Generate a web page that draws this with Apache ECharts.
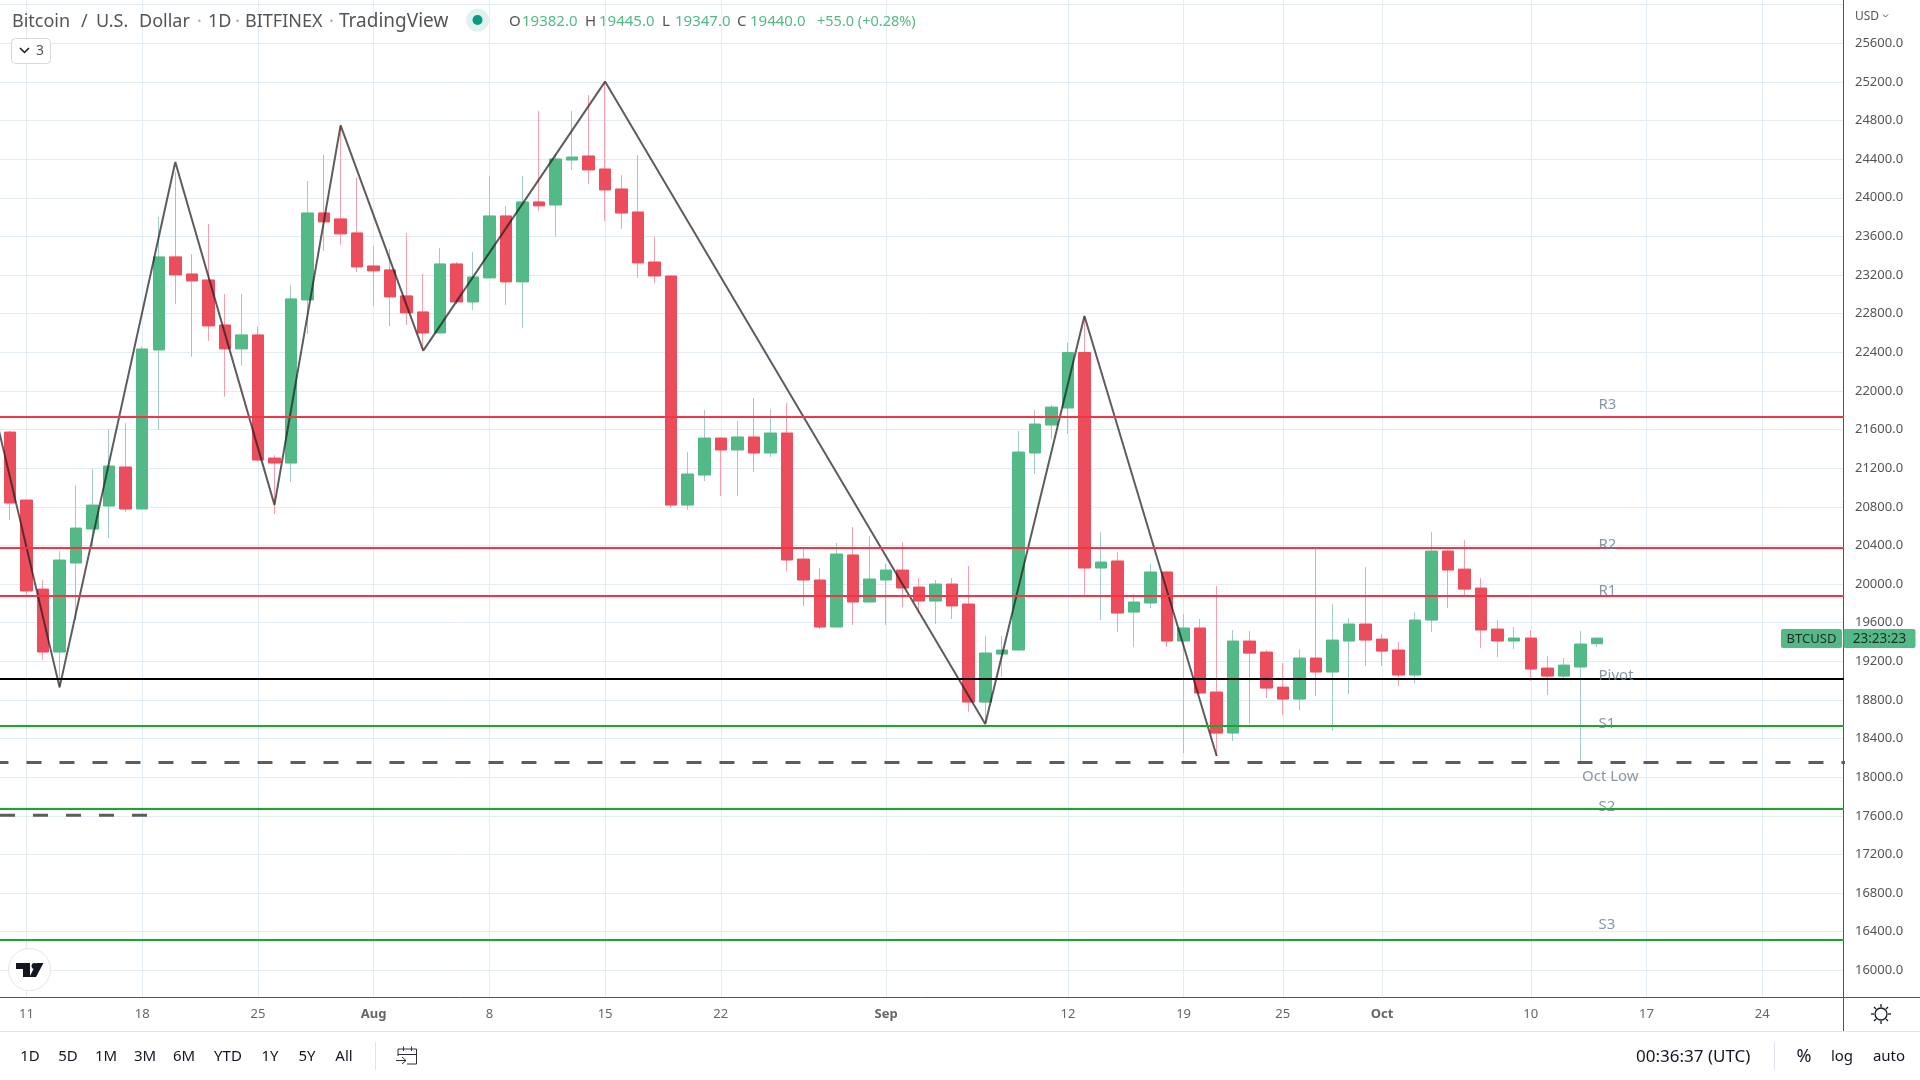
<!DOCTYPE html>
<html>
<head>
<meta charset="utf-8">
<title>Bitcoin / U.S. Dollar</title>
<script src="https://cdn.jsdelivr.net/npm/echarts@6/dist/echarts.min.js"></script>
<style>
  html, body { margin: 0; padding: 0; background: #fff; }
  #chart { width: 1920px; height: 1080px; }
</style>
</head>
<body>
<div id="chart"></div>
<script>
// day 0 is Jul 10, one candle per day up to Oct 14
const opens = [21574,20870,19948,19296,20218,20570,20808,21212,20777,22424,23388,23211,23149,22683,22435,22580,21305,21253,22942,23843,23781,23636,23294,23253,22984,22818,22600,23315,22921,23170,23812,23129,23957,23925,24391,24433,24298,24091,23853,23335,23190,20818,21129,21512,21388,21523,21357,21564,20259,20042,19555,20301,19814,20042,20145,19969,19824,20000,19793,18778,19275,19317,21357,21647,21823,22397,20166,20239,19710,19804,20125,19410,19545,18882,18457,19410,19296,18933,18809,19234,19089,19410,19586,19430,19317,19058,19627,20342,20155,19959,19534,19410,19441,19130,19047,19141,19382];
const closes = [20839,19928,19296,20249,20580,20818,21222,20777,22434,23388,23201,23139,22673,22435,22580,21284,21253,22953,23843,23750,23626,23284,23243,22973,22808,22600,23315,22921,23180,23812,23129,23957,23916,24402,24422,24288,24081,23842,23325,23190,20818,21140,21512,21388,21523,21357,21564,20249,20042,19555,20311,19814,20052,20145,19959,19824,20000,19773,18778,19286,19317,21367,21657,21833,22397,20166,20228,19700,19814,20125,19410,19545,18872,18457,19410,19285,18923,18809,19234,19089,19420,19586,19420,19306,19058,19627,20342,20145,19948,19524,19410,19441,19120,19047,19161,19379,19440];
const lows = [20663,19876,19213,18927,19627,20387,20476,20746,20777,21595,22901,22354,22518,21940,22261,21270,20725,21056,22590,23450,23512,23232,22880,22673,22683,22417,22600,22900,22839,23170,22890,22652,23864,23597,24288,24143,23760,23677,23169,23118,20787,20767,21067,20912,20912,21160,21316,20135,19773,19534,19555,19576,19814,19576,19762,19697,19586,19638,18675,18550,19041,19306,21140,21500,21554,19886,19627,19503,19348,19752,19348,18250,18860,18219,18374,18550,18820,18643,18695,18840,18478,18861,19151,19151,18944,18975,19503,19752,19886,19337,19244,19327,18996,18851,19027,18167,19347];
const highs = [21588,20870,20041,20342,21025,21191,21605,21667,22460,23802,24271,23417,23729,23004,23004,22666,21336,23097,24174,24444,24754,24206,23501,23470,23636,23211,23481,23336,23439,24226,23916,24226,24899,24450,24899,25064,25203,24236,24443,23594,23200,21367,21802,21520,21688,21927,21813,21875,20370,20166,20425,20591,20497,20208,20435,20063,20042,20063,20187,19462,19462,21585,21802,21854,22500,22776,20539,20332,19897,20208,20135,19690,19638,19979,19524,19513,19317,19182,19327,20373,19793,19648,20176,19482,19399,19710,20539,20352,20456,20062,19627,19555,19524,19254,19234,19513,19445];

// zigzag swing points
const swingDays = [-1,3,10,16,20,25,36,59,65,73];
const swingPrices = [21830,18930,24370,20820,24750,22417,25203,18550,22776,18219];

// pivot levels
const levelNames = ['R3','R2','R1','Pivot','S1','S2','S3'];
const levelPrices = [21730,20373,19876,19016,18530,17670,16314];
const octLowPrice = 18153;
const oldLowPrice = 17605;

const labelNames = ['R3','R2','R1','Pivot','S1','Oct Low','S2','S3'];
const labelPrices = [21865,20415,19939,19061,18561,18012,17709,16483];
const labelDays = [96.1,96.1,96.1,96.1,96.1,95.1,96.1,96.1];

const tickDays = [1,8,15,22,29,36,43,53,64,71,77,83,92,99,106];
const tickLabels = ['11','18','25','Aug','8','15','22','Sep','12','19','25','Oct','10','17','24'];
const priceTicks = [16000,16400,16800,17200,17600,18000,18400,18800,19200,19600,20000,20400,20800,21200,21600,22000,22400,22800,23200,23600,24000,24400,24800,25200,25600];
const rangeButtons = ['1D','5D','1M','3M','6M','YTD','1Y','5Y','All'];

const UP = '#53b987', DOWN = '#eb4d5c';
const FONT = '"Noto Sans", sans-serif';
const days = opens.map((_, i) => i);

const wickData = days.map(i => [i, opens[i], closes[i], lows[i], highs[i]]);
const bodyData = days.map(i => [i, opens[i], closes[i], Math.min(opens[i], closes[i]), Math.max(opens[i], closes[i])]);

function levelLine(price, color, extra) {
  return {
    type: 'line', silent: true, symbol: 'none', z: 6,
    data: [[-1, price], [112, price]],
    lineStyle: Object.assign({ color: color, width: 2 }, extra)
  };
}

const levelColors = { R3: '#f23645', R2: '#f23645', R1: '#f23645', Pivot: '#000000', S1: '#1aa82c', S2: '#1aa82c', S3: '#1aa82c' };

function txt(x, y, text, size, fill, align, weight) {
  return { type: 'text', x: x, y: y, z: 20, style: {
    text: text, fontSize: size, fontFamily: FONT, fill: fill, align: align || 'left', verticalAlign: 'middle', fontWeight: weight || 'normal'
  } };
}
function seg(x1, y1, x2, y2, color, width) {
  return { type: 'line', z: 19, shape: { x1, y1, x2, y2 }, style: { stroke: color, lineWidth: width || 1 } };
}

const rangeX = [30, 68, 106, 145, 184, 228, 270, 307, 344];

const chrome = [
  // panel under the axis
  seg(0, 1031.5, 1920, 1031.5, '#e0e3eb'),
  seg(1843.5, 997, 1843.5, 1031, '#555555'),
  seg(1843, 997.5, 1920, 997.5, '#555555'),
  seg(375.5, 1042, 375.5, 1070, '#e0e3eb'),
  seg(1774.5, 1042, 1774.5, 1070, '#e0e3eb'),

  // header
  txt(12, 22, 'Bitcoin', 18, '#555555'),
  txt(81, 22, '/', 18, '#555555'),
  txt(96, 22, 'U.S.', 18, '#555555'),
  txt(139, 22, 'Dollar', 18, '#555555'),
  txt(197, 22, '·', 18, '#aaaaaa'),
  txt(208, 22, '1D', 18, '#555555'),
  txt(235, 22, '·', 18, '#aaaaaa'),
  txt(245, 22, 'BITFINEX', 18, '#555555'),
  txt(329, 22, '·', 18, '#aaaaaa'),
  txt(339, 22, 'TradingView', 19, '#555555'),
  { type: 'circle', z: 19, shape: { cx: 477.5, cy: 20, r: 11.5 }, style: { fill: '#e0f2ef' } },
  { type: 'circle', z: 20, shape: { cx: 477.5, cy: 20, r: 5 }, style: { fill: '#089981' } },
  txt(509, 22, 'O', 15, '#555555'), txt(522, 22, '19382.0', 15, UP),
  txt(585, 22, 'H', 15, '#555555'), txt(599, 22, '19445.0', 15, UP),
  txt(662, 22, 'L', 15, '#555555'), txt(675, 22, '19347.0', 15, UP),
  txt(737, 22, 'C', 15, '#555555'), txt(750, 22, '19440.0', 15, UP),
  txt(817, 22, '+55.0 (+0.28%)', 14.5, UP),

  // collapse box
  { type: 'rect', z: 19, shape: { x: 11.5, y: 38.5, width: 39, height: 25, r: 4 }, style: { fill: '#fff', stroke: '#d6d8e0' } },
  { type: 'polyline', z: 20, shape: { points: [[20, 48], [24.5, 52.5], [29, 48]] }, style: { stroke: '#131722', lineWidth: 1.5, fill: 'none' } },
  txt(36, 51, '3', 14, '#555555'),

  // logo
  { type: 'circle', z: 19, shape: { cx: 29.5, cy: 969.5, r: 21 }, style: { fill: '#fff', stroke: '#e6e6e6', lineWidth: 1 } },
  { type: 'polygon', z: 20, shape: { points: [[16, 963], [30, 963], [30, 977], [23, 977], [23, 969], [16, 969]] }, style: { fill: '#131722' } },
  { type: 'circle', z: 20, shape: { cx: 34.5, cy: 966, r: 3 }, style: { fill: '#131722' } },
  { type: 'polygon', z: 20, shape: { points: [[36, 977], [43.5, 963], [36.5, 963], [29.5, 977]] }, style: { fill: '#131722' } },

  // price axis bits
  txt(1855, 17, 'USD', 12, '#555555'),
  { type: 'polyline', z: 20, shape: { points: [[1883, 14.5], [1885.5, 17], [1888, 14.5]] }, style: { stroke: '#555555', lineWidth: 1, fill: 'none' } },
  { type: 'rect', z: 19, shape: { x: 1781, y: 629, width: 61, height: 19, r: 2 }, style: { fill: UP } },
  { type: 'rect', z: 19, shape: { x: 1843.5, y: 629, width: 72, height: 19, r: 2 }, style: { fill: UP } },
  txt(1811.5, 639.5, 'BTCUSD', 13, '#1e2a26', 'center'),
  txt(1879.5, 639.5, '23:23:23', 13.5, '#1e2a26', 'center'),

  // settings icon
  { type: 'circle', z: 20, shape: { cx: 1881, cy: 1014, r: 6 }, style: { fill: 'none', stroke: '#131722', lineWidth: 1.3 } },
  seg(1881, 1004, 1881, 1007, '#131722', 1.3), seg(1881, 1021, 1881, 1024, '#131722', 1.3),
  seg(1871, 1014, 1874, 1014, '#131722', 1.3), seg(1888, 1014, 1891, 1014, '#131722', 1.3),
  seg(1874, 1007, 1876, 1009, '#131722', 1.3), seg(1886, 1019, 1888, 1021, '#131722', 1.3),
  seg(1888, 1007, 1886, 1009, '#131722', 1.3), seg(1876, 1019, 1874, 1021, '#131722', 1.3),

  // calendar icon
  { type: 'polyline', z: 20, shape: { points: [[398, 1056], [398, 1049], [416.5, 1049], [416.5, 1064], [407, 1064]] }, style: { stroke: '#2a2e39', lineWidth: 1, fill: 'none' } },
  seg(398, 1054.5, 416.5, 1054.5, '#2a2e39'),
  seg(403.5, 1046.5, 403.5, 1051, '#2a2e39'), seg(411.5, 1046.5, 411.5, 1051, '#2a2e39'),
  seg(396, 1060.5, 406, 1060.5, '#2a2e39'),
  { type: 'polyline', z: 20, shape: { points: [[402, 1057], [406, 1060.5], [402, 1064]] }, style: { stroke: '#2a2e39', lineWidth: 1, fill: 'none' } },

  // bottom bar
  txt(1636, 1057, '00:36:37 (UTC)', 17, '#131722'),
  txt(1804, 1057, '%', 18, '#131722', 'center'),
  txt(1842, 1057, 'log', 15, '#131722', 'center'),
  txt(1889, 1057, 'auto', 15, '#131722', 'center')
].concat(rangeButtons.map((b, i) => txt(rangeX[i], 1057, b, 15, '#131722', 'center')));

const chart = echarts.init(document.getElementById('chart'), null, { renderer: 'canvas' });

chart.setOption({
  animation: false,
  backgroundColor: '#ffffff',
  grid: { left: 0, right: 77, top: 0, bottom: 83, containLabel: false },
  xAxis: {
    type: 'value',
    min: -0.605,
    max: 110.89,
    axisLine: { show: true, onZero: false, lineStyle: { color: '#555555', width: 1 } },
    axisTick: { show: false, customValues: tickDays },
    splitLine: { show: true, lineStyle: { color: '#e3ecf3', width: 1 } },
    axisLabel: {
      customValues: tickDays,
      fontFamily: FONT, fontSize: 13, color: '#666666', margin: 11,
      formatter: v => {
        const t = tickLabels[tickDays.indexOf(v)];
        return /[A-Z]/.test(t) ? '{m|' + t + '}' : t;
      },
      rich: { m: { fontFamily: FONT, fontSize: 13, fontWeight: 'bold', color: '#666666' } }
    }
  },
  yAxis: {
    type: 'value',
    position: 'right',
    min: 15724,
    max: 26048,
    axisLine: { show: true, onZero: false, lineStyle: { color: '#555555', width: 1 } },
    axisTick: { show: false, customValues: priceTicks.concat([26000]) },
    splitLine: { show: true, lineStyle: { color: '#e3ecf3', width: 1 } },
    axisLabel: {
      customValues: priceTicks,
      fontFamily: FONT, fontSize: 13, color: '#555555', margin: 12, padding: [2, 0, 0, 0],
      formatter: v => v.toFixed(1)
    }
  },
  graphic: chrome,
  series: [
    {
      name: 'wicks', type: 'candlestick', silent: true, barWidth: 1, z: 2,
      data: wickData,
      itemStyle: { color: '#a0cbc9', color0: '#f7a0ae', borderColor: '#a0cbc9', borderColor0: '#f7a0ae', borderWidth: 1 }
    },
    {
      name: 'BTCUSD', type: 'candlestick', silent: true, barWidth: 12, z: 3,
      data: bodyData,
      itemStyle: { color: UP, color0: DOWN, borderColor: UP, borderColor0: DOWN, borderWidth: 1 }
    },
    {
      name: 'zigzag', type: 'line', silent: true, symbol: 'none', z: 5,
      data: swingDays.map((d, i) => [d, swingPrices[i]]),
      lineStyle: { color: 'rgba(30,30,30,0.72)', width: 2 }
    },
    levelLine(octLowPrice, '#5d5d5d', { width: 3, type: [15, 18] }),
    {
      type: 'line', silent: true, symbol: 'none', z: 6,
      data: [[-0.605, oldLowPrice], [8.3, oldLowPrice]],
      lineStyle: { color: '#5d5d5d', width: 3, type: [15, 18] }
    },
    ...levelNames.map((n, i) => levelLine(levelPrices[i], levelColors[n])),
    {
      name: 'labels', type: 'scatter', silent: true, symbolSize: 0, z: 7,
      data: labelNames.map((n, i) => ({ name: n, value: [labelDays[i], labelPrices[i]] })),
      label: {
        show: true, position: 'right', distance: 0, offset: [0, 1], formatter: '{b}',
        fontFamily: FONT, fontSize: 15, color: '#6a7d90'
      }
    }
  ]
});
</script>
</body>
</html>
